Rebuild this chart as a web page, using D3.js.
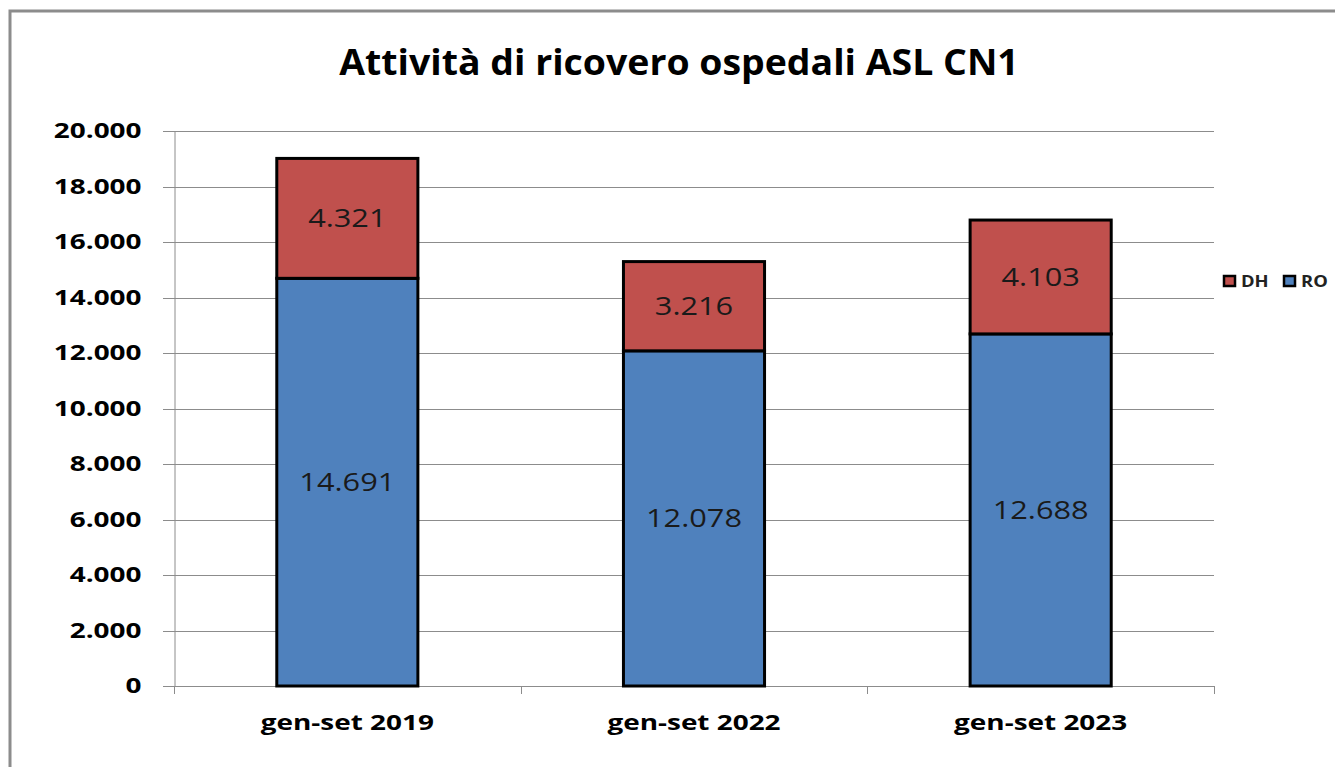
<!DOCTYPE html>
<html>
	<head>
		<meta charset="UTF-8">
		<title>Attività di ricovero ospedali ASL CN1</title>
		<script type="text/javascript" src="https://cdn.jsdelivr.net/npm/d3@7"></script>
		<style>
			body { margin: 0; background: #fff; }
			text { font-family: "Open Sans", "DejaVu Sans", sans-serif; }
		</style>
	</head>
	<body>
		<script type="text/javascript">
			// dati
			var categories = ["gen-set 2019", "gen-set 2022", "gen-set 2023"];
			var roValues = [14691, 12078, 12688];
			var dhValues = [4321, 3216, 4103];
			var seriesNames = ["DH", "RO"];
			var yTicks = [0, 2000, 4000, 6000, 8000, 10000, 12000, 14000, 16000, 18000, 20000];

			var width = 1335, height = 767;
			var plot = {left: 174, right: 1214, top: 131, bottom: 686};
			var colors = {RO: "#4F81BD", DH: "#C0504D"};

			var svg = d3.select("body")
				.append("svg")
				.attr("width", width)
				.attr("height", height);

			// cornice esterna
			svg.append("path")
				.attr("d", "M10,767V11H1335")
				.attr("fill", "none")
				.attr("stroke", "#8c8c8c")
				.attr("stroke-width", 3);

			// titolo (testo un po' allargato come nell'originale)
			svg.append("text")
				.attr("transform", "translate(679,75) scale(1.04,1)")
				.attr("text-anchor", "middle")
				.attr("font-size", 36)
				.attr("font-weight", "bold")
				.attr("fill", "#000")
				.text("Attività di ricovero ospedali ASL CN1");

			var x = d3.scaleBand()
				.domain(categories)
				.range([plot.left, plot.right])
				.paddingInner(0.593)
				.paddingOuter(0.2965);

			var y = d3.scaleLinear()
				.domain([0, 20000])
				.range([plot.bottom, plot.top]);

			var fmt = function (v) { return d3.format(",")(v).replace(/,/g, "."); };

			// griglia
			svg.append("g")
				.selectAll("line")
				.data(yTicks)
				.enter().append("line")
				.attr("x1", plot.left - 11)
				.attr("x2", plot.right)
				.attr("y1", function (d) { return Math.round(y(d)) + 0.5; })
				.attr("y2", function (d) { return Math.round(y(d)) + 0.5; })
				.attr("stroke", "#8c8c8c")
				.attr("stroke-width", 1);

			// asse y
			var yAxis = svg.append("g")
				.attr("transform", "translate(" + (plot.left + 0.5) + ",0)")
				.call(d3.axisLeft(y).tickValues(yTicks).tickSize(0).tickFormat(fmt));
			yAxis.select(".domain").attr("stroke", "#8c8c8c");
			yAxis.selectAll("text")
				.attr("x", null)
				.attr("transform", "translate(-33,0) scale(1.33,1)")
				.attr("font-size", 21)
				.attr("font-weight", "bold")
				.attr("fill", "#000")
				.style("font-family", "'Open Sans', sans-serif");

			// asse x
			var xAxis = svg.append("g")
				.attr("transform", "translate(0," + (plot.bottom + 0.5) + ")")
				.call(d3.axisBottom(x).tickSize(0));
			xAxis.select(".domain").attr("stroke", "#8c8c8c").attr("d", "M" + plot.left + ",0H" + plot.right);
			xAxis.selectAll("text")
				.attr("y", null)
				.attr("dy", null)
				.attr("transform", "translate(0,43) scale(1.33,1)")
				.attr("font-size", 21)
				.attr("font-weight", "bold")
				.attr("fill", "#000")
				.style("font-family", "'Open Sans', sans-serif");

			// tacche tra le categorie
			svg.append("g")
				.selectAll("line")
				.data(d3.range(categories.length + 1))
				.enter().append("line")
				.attr("x1", function (i) { return Math.round(plot.left + i * (plot.right - plot.left) / categories.length) + 0.5; })
				.attr("x2", function (i) { return Math.round(plot.left + i * (plot.right - plot.left) / categories.length) + 0.5; })
				.attr("y1", plot.bottom)
				.attr("y2", plot.bottom + 8)
				.attr("stroke", "#8c8c8c");

			// barre impilate
			var rows = categories.map(function (c, i) { return {cat: c, RO: roValues[i], DH: dhValues[i]}; });
			var stack = d3.stack().keys(["RO", "DH"])(rows);

			var layers = svg.append("g")
				.selectAll("g")
				.data(stack)
				.enter().append("g")
				.attr("fill", function (d) { return colors[d.key]; });

			layers.selectAll("rect")
				.data(function (d) { return d; })
				.enter().append("rect")
				.attr("x", function (d) { return x(d.data.cat); })
				.attr("width", x.bandwidth())
				.attr("y", function (d) { return y(d[1]); })
				.attr("height", function (d) { return y(d[0]) - y(d[1]); })
				.attr("stroke", "#000")
				.attr("stroke-width", 3);

			layers.selectAll("text")
				.data(function (d) { return d; })
				.enter().append("text")
				.attr("transform", function (d) {
					var cx = x(d.data.cat) + x.bandwidth() / 2;
					var cy = (y(d[0]) + y(d[1])) / 2 + 9;
					return "translate(" + cx + "," + cy + ") scale(1.23,1)";
				})
				.attr("text-anchor", "middle")
				.attr("font-size", 25)
				.attr("fill", "#1a1a1a")
				.text(function (d) { return fmt(d[1] - d[0]); });

			// legenda
			var legend = svg.append("g")
				.selectAll("g")
				.data(seriesNames)
				.enter().append("g")
				.attr("transform", function (d, i) { return "translate(" + (1224 + i * 60) + ",281)"; });
			legend.append("rect")
				.attr("x", 0)
				.attr("y", -5)
				.attr("width", 11)
				.attr("height", 10)
				.attr("fill", function (d) { return colors[d]; })
				.attr("stroke", "#000")
				.attr("stroke-width", 2.5);
			legend.append("text")
				.attr("transform", "translate(17,6) scale(1.15,1)")
				.attr("font-size", 16)
				.attr("font-weight", "bold")
				.attr("fill", "#222")
				.text(function (d) { return d; });
		</script>
	</body>
</html>
